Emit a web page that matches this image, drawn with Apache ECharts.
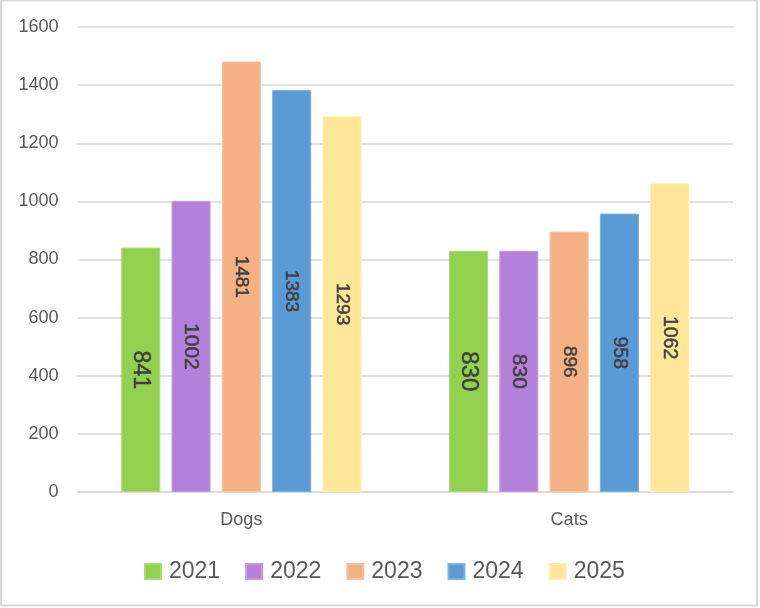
<!DOCTYPE html>
<html>
<head>
<meta charset="utf-8">
<script src="https://cdn.jsdelivr.net/npm/echarts@6/dist/echarts.min.js"></script>
<style>
html,body{margin:0;padding:0;background:#fff;}
#chart{width:760px;height:608px;}
</style>
</head>
<body>
<div id="chart"></div>
<script>
const categories = ['Dogs', 'Cats'];
const years = ['2021', '2022', '2023', '2024', '2025'];
const values2021 = [841, 830];
const values2022 = [1002, 830];
const values2023 = [1481, 896];
const values2024 = [1383, 958];
const values2025 = [1293, 1062];
const yTicks = [0, 200, 400, 600, 800, 1000, 1200, 1400, 1600];

const colors = ['#92D050', '#B381D9', '#F4B183', '#5B9BD5', '#FFE699'];
const borders = ['#A8DB74', '#C49BE0', '#F7C29D', '#7CB0DE', '#FFEDB0'];
// label font sizes per data point (as in reference)
const labelSizes = [[23, 24], [21, 21], [19, 19], [19, 19.5], [19, 19.5]];
const seriesValues = [values2021, values2022, values2023, values2024, values2025];

const chart = echarts.init(document.getElementById('chart'));
const series = years.map((y, i) => ({
  name: y,
  type: 'bar',
  barWidth: 39,
  barGap: '29%',
  itemStyle: { color: colors[i], borderColor: borders[i], borderWidth: 1 },
  data: seriesValues[i].map((v, j) => ({
    value: v,
    label: { fontSize: labelSizes[i][j] }
  })),
  label: {
    show: true,
    position: 'inside',
    rotate: -90,
    color: '#404040',
    fontWeight: 'normal',
    textBorderColor: '#404040',
    textBorderWidth: 0.5,
    fontFamily: 'Liberation Sans'
  }
}));

chart.setOption({
  animation: false,
  textStyle: { fontFamily: 'Liberation Sans' },
  grid: { left: 77.5, right: 27, top: 27, bottom: 116, containLabel: false },
  graphic: [{
    type: 'rect',
    shape: { x: 1, y: 0.5, width: 756, height: 605 },
    style: { fill: 'none', stroke: '#D9D9D9', lineWidth: 2 },
    silent: true
  }],
  legend: {
    data: years,
    bottom: 20,
    left: 139,
    itemWidth: 16,
    itemHeight: 15,
    itemGap: 25,
    icon: 'rect',
    textStyle: { fontSize: 23, color: '#595959', padding: [0, 0, 0, 3] }
  },
  xAxis: {
    type: 'category',
    data: categories,
    axisTick: { show: false },
    axisLine: { lineStyle: { color: '#D9D9D9', width: 1.5 } },
    axisLabel: { color: '#595959', fontSize: 18, margin: 19 }
  },
  yAxis: {
    type: 'value',
    min: yTicks[0],
    max: yTicks[yTicks.length - 1],
    interval: 200,
    axisLine: { show: false },
    axisTick: { show: false },
    splitLine: { lineStyle: { color: '#D9D9D9', width: 1.5 } },
    axisLabel: { color: '#595959', fontSize: 18, margin: 19, formatter: v => String(v) }
  },
  series: series
});
</script>
</body>
</html>
